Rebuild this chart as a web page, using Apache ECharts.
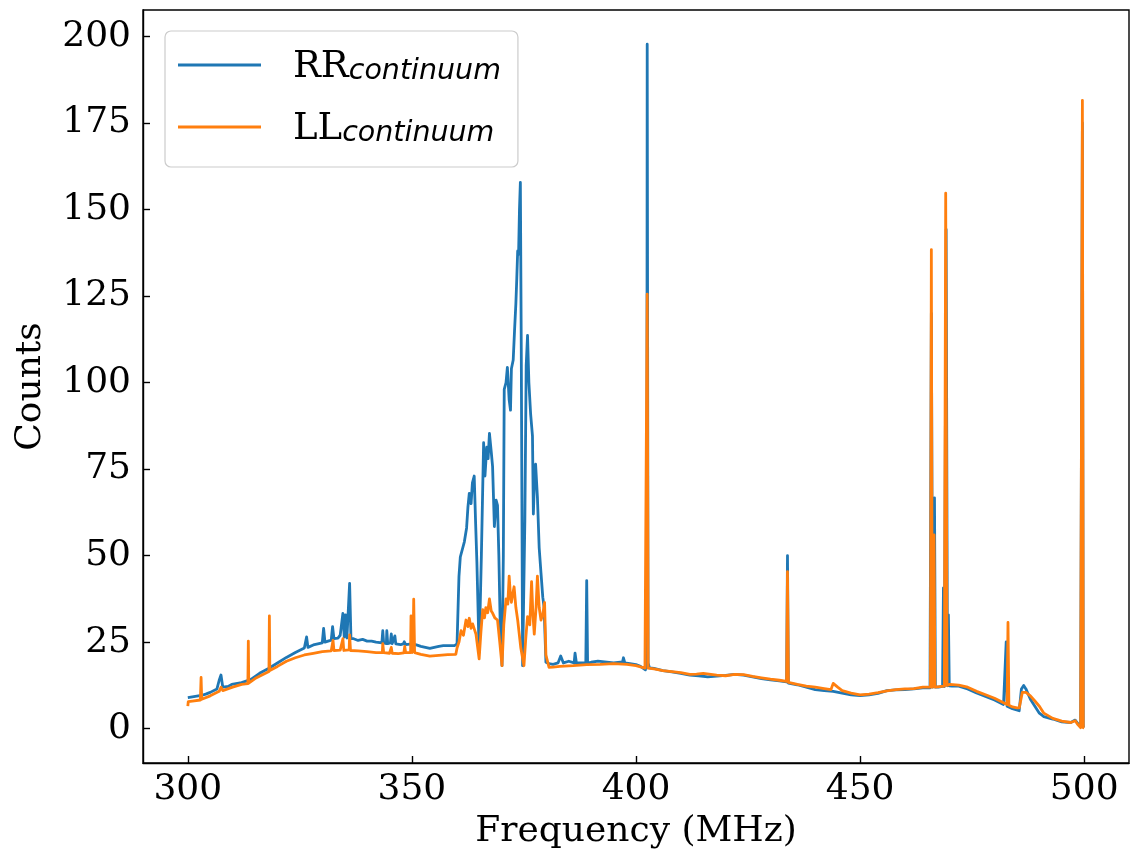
<!DOCTYPE html>
<html>
<head>
<meta charset="utf-8">
<script src="https://cdn.jsdelivr.net/npm/echarts@6/dist/echarts.min.js"></script>
<style>
html,body{margin:0;padding:0;background:#fff;}
#chart{width:1132px;height:857px;}
</style>
</head>
<body>
<div id="chart"></div>
<script>
// ---- Data ----
const seriesNames = ['RR_continuum', 'LL_continuum'];
const xTicks = [300, 350, 400, 450, 500];
const yTicks = [0, 25, 50, 75, 100, 125, 150, 175, 200];

const freqRR = [
  300.0,301.0,302.0,303.0,304.0,305.0,306.5,307.0,307.4,307.8,309.0,309.8,309.9,310.1,312.0,314.0,316.0,318.0,320.0,322.0,
  324.0,326.0,326.5,326.8,328.0,330.0,330.3,330.6,332.0,332.3,332.6,333.5,334.0,334.6,334.9,335.2,335.5,335.9,336.1,336.4,
  337.0,338.0,339.0,340.0,341.0,342.0,343.3,343.5,343.7,344.3,344.4,344.6,345.2,345.4,345.6,346.0,346.2,346.4,347.5,348.1,
  348.3,348.6,350.0,351.0,352.0,353.0,354.0,355.0,356.0,357.0,358.0,359.5,
  360.07,360.5,360.8,361.2,361.7,362.2,362.5,362.8,363.2,363.5,363.9,364.2,364.5,365.0,365.5,366.0,366.3,366.7,367.0,367.3,
  367.7,368.0,368.4,368.8,369.1,369.4,369.7,370.1,370.4,370.6,371.0,371.3,371.7,372.0,372.2,372.6,372.9,373.2,373.4,373.6,
  373.8,374.0,374.2,374.4,374.7,375.2,375.5,375.8,376.1,376.5,376.9,377.1,377.3,377.6,378.0,378.4,378.8,379.2,379.5,379.9,
  380.6,381.5,382.6,383.2,383.8,385.0,386.2,386.4,386.7,388.8,389.0,389.2,390.0,391.5,393.0,395.0,397.0,397.2,397.5,399.0,
  400.0,401.0,402.1,402.4,402.5,402.7,403.0,404.0,406.0,408.0,410.0,412.0,414.0,416.0,418.0,420.0,422.0,424.0,426.0,428.0,
  430.0,432.0,433.6,433.8,434.0,436.0,438.0,440.0,442.0,444.0,446.0,448.0,450.0,452.0,454.0,456.0,458.0,460.0,462.0,464.0,
  465.6,465.9,466.2,466.6,466.8,467.5,468.4,468.6,468.8,469.2,469.5,469.7,469.9,470.5,472.0,474.0,476.0,478.0,480.0,482.0,
  482.4,482.6,482.8,484.0,485.5,486.0,486.5,487.0,488.0,489.0,490.0,491.0,493.0,495.0,497.0,498.0,498.6,499.2,499.6,499.8,
  500.0
];
const countsRR = [
  9.0,9.2,9.4,9.6,10.0,10.5,11.5,14.0,15.5,12.0,12.2,12.8,13.3,12.6,13.3,14.2,16.0,17.4,19.0,20.6,
  22.0,23.3,26.5,23.5,24.2,24.8,29.0,25.0,25.6,29.5,26.0,26.2,27.0,33.3,26.5,32.9,26.2,26.4,42.0,26.0,
  26.0,25.5,25.8,25.3,25.3,25.0,24.8,28.3,24.8,24.6,28.3,24.6,24.8,27.4,24.6,24.7,26.8,24.5,24.3,24.5,
  25.1,24.3,24.5,24.2,23.8,23.5,23.2,23.5,23.8,24.0,24.0,24.0,
  24.5,44.0,49.6,50.0,54.0,58.0,64.0,68.0,65.0,71.0,73.0,60.0,48.0,22.0,50.0,82.6,73.0,81.3,78.0,85.3,
  80.0,75.7,58.4,66.0,64.5,50.0,30.0,18.2,50.0,98.0,100.0,104.4,95.0,92.0,104.0,106.5,115.0,122.9,130.0,138.0,
  137.0,150.0,157.8,110.0,18.2,60.0,105.0,113.6,100.0,90.7,84.6,62.0,70.0,76.4,67.0,52.2,45.0,38.0,35.0,19.2,
  18.8,18.6,19.0,21.0,19.0,19.5,19.0,21.8,19.0,19.0,42.8,19.0,19.2,19.5,19.3,19.0,19.3,20.5,19.0,18.7,
  18.5,18.0,17.0,20.0,197.7,19.0,17.6,17.4,16.8,16.4,16.0,15.5,15.3,15.0,15.2,15.4,15.7,15.5,15.0,14.5,
  14.1,13.8,13.5,50.0,13.2,12.7,12.0,11.3,11.0,10.8,10.3,9.8,9.6,9.8,10.2,11.0,11.2,11.3,11.5,11.8,
  11.8,120.0,12.0,66.7,12.0,12.0,12.2,40.7,12.2,144.2,12.4,32.9,12.4,12.3,12.3,11.5,10.3,9.3,8.3,7.0,
  6.8,25.1,6.5,5.8,5.2,11.5,12.5,11.5,8.5,6.5,4.5,3.5,2.8,2.0,1.8,2.5,1.5,0.5,175.0,0.5,
  0.3
];

const freqLL = [
  300.0,300.1,301.0,302.8,302.96,303.1,305.0,307.0,307.4,307.8,310.0,312.0,313.4,313.5,313.6,315.0,318.1,318.2,318.3,320.0,
  322.0,324.0,326.0,328.0,330.0,332.0,332.4,332.6,334.0,334.6,334.8,336.0,336.1,336.3,338.0,340.0,342.0,343.4,343.5,343.7,
  345.0,345.4,345.6,347.0,348.2,348.4,348.6,349.7,349.8,350.0,350.3,350.4,350.6,352.0,354.0,356.0,358.0,359.8,
  360.07,360.5,360.96,361.5,362.07,362.5,362.8,363.2,363.55,364.0,364.3,365.0,365.4,365.8,366.2,366.5,366.9,367.3,367.7,368.0,
  368.5,369.1,369.6,370.1,370.5,371.0,371.4,371.7,372.0,372.2,372.5,372.8,373.2,373.6,374.3,375.0,375.4,375.8,376.3,376.7,
  377.0,377.3,377.7,378.0,378.4,378.8,379.2,379.6,379.9,380.6,381.5,383.0,386.0,389.0,392.0,395.0,398.0,400.0,402.0,402.3,
  402.5,402.7,403.0,404.0,406.0,408.0,410.0,412.0,413.5,415.0,418.0,420.0,422.0,424.0,426.0,428.0,430.0,432.0,433.6,433.8,
  434.0,436.0,438.0,440.0,442.0,443.5,444.0,445.0,446.0,448.0,450.0,452.0,454.0,456.0,458.0,460.0,462.0,464.0,465.7,465.9,
  466.1,466.4,466.5,466.7,468.8,469.1,469.4,470.0,472.0,474.0,476.0,478.0,480.0,482.0,482.8,483.0,483.2,484.0,485.0,485.5,
  486.2,487.0,488.0,489.0,490.0,491.0,493.0,495.0,497.0,498.0,498.6,499.2,499.6,499.8,500.0
];
const countsLL = [
  6.5,7.8,8.0,8.3,14.8,8.5,9.5,10.8,12.0,11.0,12.0,12.8,13.0,25.3,13.2,14.5,16.5,32.6,16.8,18.0,
  19.5,20.5,21.3,21.8,22.3,22.5,25.5,22.6,22.7,26.0,22.6,22.8,27.1,22.6,22.5,22.3,22.0,22.0,24.6,22.0,
  21.8,23.5,21.8,21.7,21.9,23.8,22.0,22.0,32.6,22.0,28.0,37.4,22.0,21.5,21.0,21.2,21.4,21.5,
  23.3,25.0,28.3,27.0,31.4,29.5,31.9,29.0,30.3,28.5,27.3,20.2,28.0,34.4,32.0,35.0,33.5,37.5,34.0,33.4,
  32.0,31.4,25.0,18.2,30.0,37.5,36.0,44.1,38.0,36.5,39.0,41.0,35.0,31.4,23.3,18.2,26.0,32.4,30.0,42.5,
  33.0,27.3,35.0,44.1,35.0,31.4,33.0,36.5,21.3,17.7,17.8,18.0,18.2,18.5,18.6,18.8,18.6,18.2,17.5,17.0,
  125.5,17.5,17.6,17.3,16.8,16.5,16.2,15.7,15.8,16.0,15.5,15.3,15.7,15.6,15.1,14.7,14.3,14.0,13.7,45.4,
  13.4,12.8,12.3,12.0,11.6,11.3,13.1,12.0,11.0,10.3,9.8,10.0,10.4,10.9,11.3,11.5,11.6,12.0,12.0,138.4,
  12.0,12.0,56.0,12.0,12.3,154.7,12.5,12.8,12.6,12.0,10.8,9.8,8.8,7.5,7.0,30.7,6.8,6.3,6.0,6.0,
  10.5,10.5,9.5,8.0,6.5,4.5,3.0,2.2,1.8,2.3,1.2,0.3,181.5,0.3,0.2
];

// ---- Chart ----
function zip(xs, ys) { return xs.map((x, i) => [x, ys[i]]); }

const chart = echarts.init(document.getElementById('chart'), null, { renderer: 'canvas' });
const serif = "'DejaVu Serif', serif";
const lw = 2.8;

const option = {
  animation: false,
  backgroundColor: '#ffffff',
  grid: {
    left: 143, right: 3, top: 10, bottom: 94,
    show: true, borderColor: '#000', borderWidth: 1.4,
    containLabel: false, outerBoundsMode: 'none'
  },
  legend: {
    orient: 'vertical',
    left: 165, top: 31,
    padding: [18, 17, 19, 13],
    itemGap: 25,
    itemWidth: 83, itemHeight: 3,
    icon: 'rect',
    backgroundColor: 'rgba(255,255,255,0.8)',
    borderColor: '#cccccc', borderWidth: 1.2, borderRadius: 6,
    formatter: function (name) {
      const parts = name.split('_');
      return '{a|' + parts[0] + '}{b|' + parts[1] + '}';
    },
    textStyle: {
      padding: [0, 0, 0, 27],
      rich: {
        a: { fontFamily: serif, fontSize: 37, color: '#000', lineHeight: 42, verticalAlign: 'bottom' },
        b: { fontFamily: "'DejaVu Sans', sans-serif", fontStyle: 'italic', fontSize: 28.5, color: '#000',
             lineHeight: 24, verticalAlign: 'bottom' }
      }
    },
    data: seriesNames
  },
  xAxis: {
    type: 'value',
    min: 290, max: 510,
    name: 'Frequency (MHz)',
    nameLocation: 'middle',
    nameGap: 51,
    nameTextStyle: { fontFamily: serif, fontSize: 36, color: '#000' },
    axisLine: { show: true, onZero: false, lineStyle: { color: '#000', width: 1.4 } },
    axisTick: { show: true, inside: true, length: 7, lineStyle: { color: '#000', width: 1.4 }, customValues: xTicks },
    axisLabel: { show: true, margin: 9, fontFamily: serif, fontSize: 36, color: '#000', customValues: xTicks },
    splitLine: { show: false }
  },
  yAxis: {
    type: 'value',
    min: -9.9, max: 207.6,
    name: 'Counts',
    nameLocation: 'middle',
    nameGap: 94,
    nameRotate: 90,
    nameTextStyle: { fontFamily: serif, fontSize: 36, color: '#000' },
    axisLine: { show: true, onZero: false, lineStyle: { color: '#000', width: 1.4 } },
    axisTick: { show: true, inside: true, length: 7, lineStyle: { color: '#000', width: 1.4 }, customValues: yTicks },
    axisLabel: { show: true, margin: 12, fontFamily: serif, fontSize: 36, color: '#000', customValues: yTicks },
    splitLine: { show: false }
  },
  series: [
    {
      name: seriesNames[0], type: 'line', data: zip(freqRR, countsRR),
      showSymbol: false, symbol: 'none', color: '#1f77b4',
      lineStyle: { width: lw, color: '#1f77b4', join: 'round' }, z: 2
    },
    {
      name: seriesNames[1], type: 'line', data: zip(freqLL, countsLL),
      showSymbol: false, symbol: 'none', color: '#ff7f0e',
      lineStyle: { width: lw, color: '#ff7f0e', join: 'round' }, z: 3
    }
  ]
};
chart.setOption(option);
</script>
</body>
</html>
